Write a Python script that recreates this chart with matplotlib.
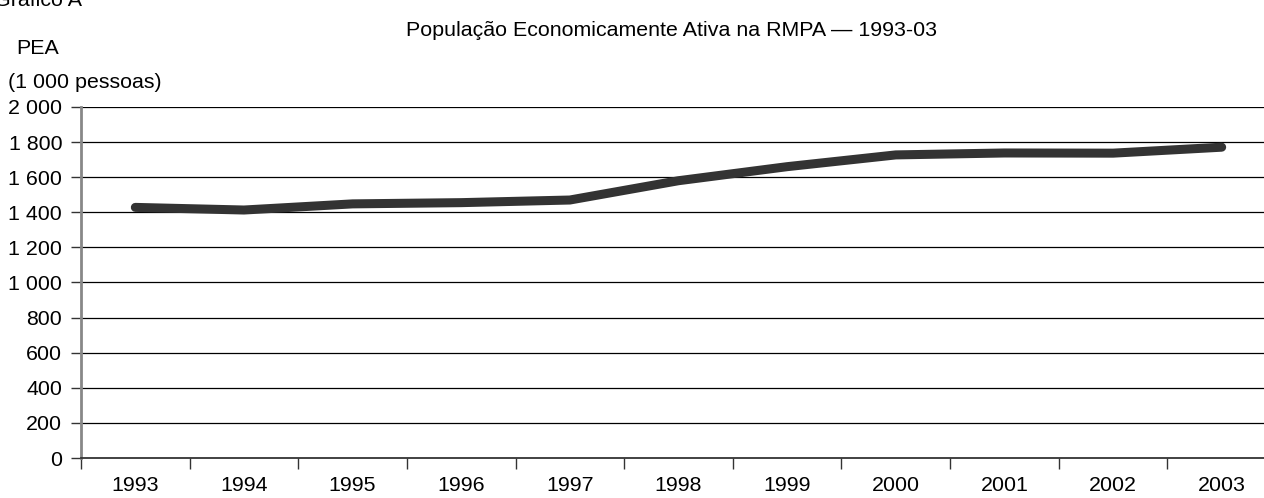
import matplotlib
matplotlib.use("Agg")
import matplotlib.pyplot as plt
import numpy as np

years = ["1993", "1994", "1995", "1996", "1997", "1998", "1999", "2000", "2001", "2002", "2003"]
pea = [1428, 1413, 1448, 1455, 1470, 1580, 1660, 1727, 1738, 1737, 1771]
yticks = [0, 200, 400, 600, 800, 1000, 1200, 1400, 1600, 1800, 2000]
ytick_labels = ["0", "200", "400", "600", "800", "1 000", "1 200", "1 400", "1 600", "1 800", "2 000"]

plt.rcParams['font.family'] = ['Liberation Sans', 'DejaVu Sans']
FS = 15.4

fig = plt.figure(figsize=(12.64, 4.98), dpi=100)
ax = fig.add_axes([81/1264, 1 - 458/498, (1276 - 81)/1264, (458 - 107)/498])

x = np.arange(len(years))
ax.plot(x, pea, color="#333333", lw=6.5, solid_capstyle="round", solid_joinstyle="round", zorder=3)

ax.set_ylim(0, 2000)
ax.set_xlim(-0.5, len(years) - 0.5)
ax.set_yticks(yticks)
ax.set_yticklabels(ytick_labels, fontsize=FS)
for v in yticks[1:]:
    ax.axhline(v, color="black", lw=0.9, zorder=1)

ax.set_xticks(np.arange(-0.5, len(years), 1.0))
ax.set_xticklabels([""] * (len(years) + 1))
ax.set_xticks(x, minor=True)
ax.set_xticklabels(years, minor=True, fontsize=FS)
ax.tick_params(axis="x", which="minor", length=0, pad=13)
ax.tick_params(axis="x", which="major", length=8, width=1.0, color="#333333")
ax.tick_params(axis="y", length=7, width=1.0, color="#333333", pad=6.5)

for s in ["top", "right"]:
    ax.spines[s].set_visible(False)
ax.spines["left"].set_color("#888888")
ax.spines["left"].set_linewidth(2)
ax.spines["bottom"].set_color("#333333")
ax.spines["bottom"].set_linewidth(1.3)

fig.text(671/1264, 1 - 30/498, "População Economicamente Ativa na RMPA — 1993-03",
         ha="center", va="center", fontsize=FS)
fig.text(16/1264, 1 - 48/498, "PEA", ha="left", va="center", fontsize=FS)
fig.text(8/1264, 1 - 83/498, "(1 000 pessoas)", ha="left", va="center", fontsize=FS)
fig.text(-6/1264, 1 - 1/498, "Gráfico A", ha="left", va="center", fontsize=FS)

fig.savefig("out.png", dpi=100)
